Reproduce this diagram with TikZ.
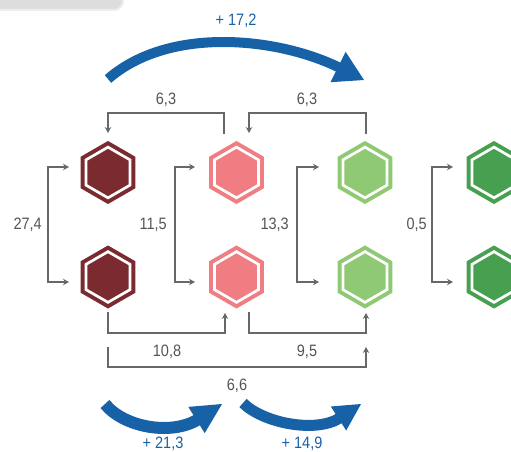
\documentclass[tikz,border=0pt]{standalone}
\usepackage{fontspec}
\setmainfont[FakeStretch=0.88]{Liberation Sans}
\usetikzlibrary{shapes.geometric,arrows.meta,calc}
\definecolor{dred}{HTML}{7B2A2F}
\definecolor{pinkc}{HTML}{F07D82}
\definecolor{lgreen}{HTML}{8FC973}
\definecolor{dgreen}{HTML}{47A050}
\definecolor{blu}{HTML}{1761A6}
\definecolor{connc}{HTML}{686868}
\definecolor{txtc}{HTML}{555555}
\definecolor{boxfill}{HTML}{DDDDDD}
\definecolor{boxedge}{HTML}{EDEDED}
\begin{document}
\begin{tikzpicture}[x=1pt,y=-1pt,
  hexa/.style={regular polygon, regular polygon sides=6, regular polygon rotate=30,
    minimum size=50.7pt, inner sep=0pt, outer sep=0pt, line width=4pt,
    double=white, double distance=2.7pt, fill=#1, draw=#1},
  tipa/.tip={Stealth[length=6pt,width=6.5pt]},
  link/.style={draw=connc, line width=1.8pt},
  lbl/.style={text=txtc, font=\fontsize{16.5}{16.5}\selectfont, inner sep=0pt},
  blbl/.style={text=blu, font=\fontsize{16.5}{16.5}\selectfont, inner sep=0pt},
  bhead/.style={fill=blu}
]
\useasboundingbox (0,0) rectangle (511,452);
% grey tab top-left
\draw[draw=boxedge, fill=boxfill, line width=2pt, rounded corners=9pt] (-20,-20) rectangle (123,10);

% hexagons
\node[hexa=dred]   (h11) at (108,172.5) {};
\node[hexa=pinkc]  (h12) at (236.5,172.5) {};
\node[hexa=lgreen] (h13) at (365,172.5) {};
\node[hexa=dgreen] (h14) at (494,172.5) {};
\node[hexa=dred]   (h21) at (108,277) {};
\node[hexa=pinkc]  (h22) at (236.5,277) {};
\node[hexa=lgreen] (h23) at (365,277) {};
\node[hexa=dgreen] (h24) at (494,277) {};

% side brackets
\draw[link, tipa-tipa] ($(h11)+(-39,-5.5)$) -- ++(-21,0) |- ($(h21)+(-39,5)$);
\draw[link, tipa-tipa] ($(h12)+(-41.5,-5.5)$) -- ++(-20,0) |- ($(h22)+(-41.5,5)$);
\draw[link, tipa-tipa] ($(h13)+(-46,-5.5)$) -- ++(-22,0) |- ($(h23)+(-46,5)$);
\draw[link, tipa-tipa] ($(h14)+(-41,-5.5)$) -- ++(-21,0) |- ($(h24)+(-41,5)$);
\node[lbl, anchor=east] (l274) at (42,224.5) {27,4};
\node[lbl, anchor=east] (l115) at (167,224.5) {11,5};
\node[lbl, anchor=east] (l133) at (289,224.5) {13,3};
\node[lbl, anchor=east] (l05)  at (427,224.5) {0,5};

% top connectors
\draw[link, -tipa] ($(h12)+(-12.5,-38.5)$) |- ($(h11)+(0,-59.5)$) -- ($(h11)+(0,-39.5)$);
\draw[link, -tipa] ($(h13)+(1,-38.5)$) |- ($(h12)+(12.5,-59.5)$) -- ($(h12)+(12.5,-39.5)$);
\node[lbl] (t631) at (166,99.5) {6,3};
\node[lbl] (t632) at (307,99.5) {6,3};

% bottom connectors
\draw[link, -tipa] ($(h21)+(0,35)$) |- ($(h22)+(-11.5,56)$) -- ($(h22)+(-11.5,36)$);
\draw[link, -tipa] ($(h22)+(12.5,35)$) |- ($(h23)+(1,56)$) -- ($(h23)+(1,36)$);
\draw[link, -tipa] ($(h21)+(0,70)$) |- ($(h23)+(1,90)$) -- ($(h23)+(1,70)$);
\node[lbl] (b108) at (167,351.5) {10,8};
\node[lbl] (b95)  at (307,351.5) {9,5};
\node[lbl] (b66)  at (237,385.5) {6,6};

% blue arrows
\coordinate (ta) at (108,79);
\coordinate (tb) at (340,68);
\draw[blu, line width=10pt] (ta) .. controls (170,25) and (280,38) .. (tb);
\fill[bhead] (364,80) -- (345.6,51.8) -- (330.4,82.2) -- cycle;
\node[blbl] (p172) at (236,21) {+ 17,2};

\coordinate (la) at (105,404);
\coordinate (lb) at (198,419.4);
\draw[blu, line width=12pt] (la) .. controls (123.75,427.4) and (171.6,435.9) .. (lb);
\fill[bhead] (222,404) -- (188.3,406.9) -- (204.7,433.1) -- cycle;
\node[blbl] (p213) at (163,443.5) {+ 21,3};

\coordinate (ra) at (243,403);
\coordinate (rb) at (340,417.9);
\draw[blu, line width=11pt] (ra) .. controls (262.8,422.8) and (315.5,433.6) .. (rb);
\fill[bhead] (361,404) -- (330.8,406.5) -- (346.2,430.5) -- cycle;
\node[blbl] (p149) at (302,443.5) {+ 14,9};
\end{tikzpicture}
\end{document}
